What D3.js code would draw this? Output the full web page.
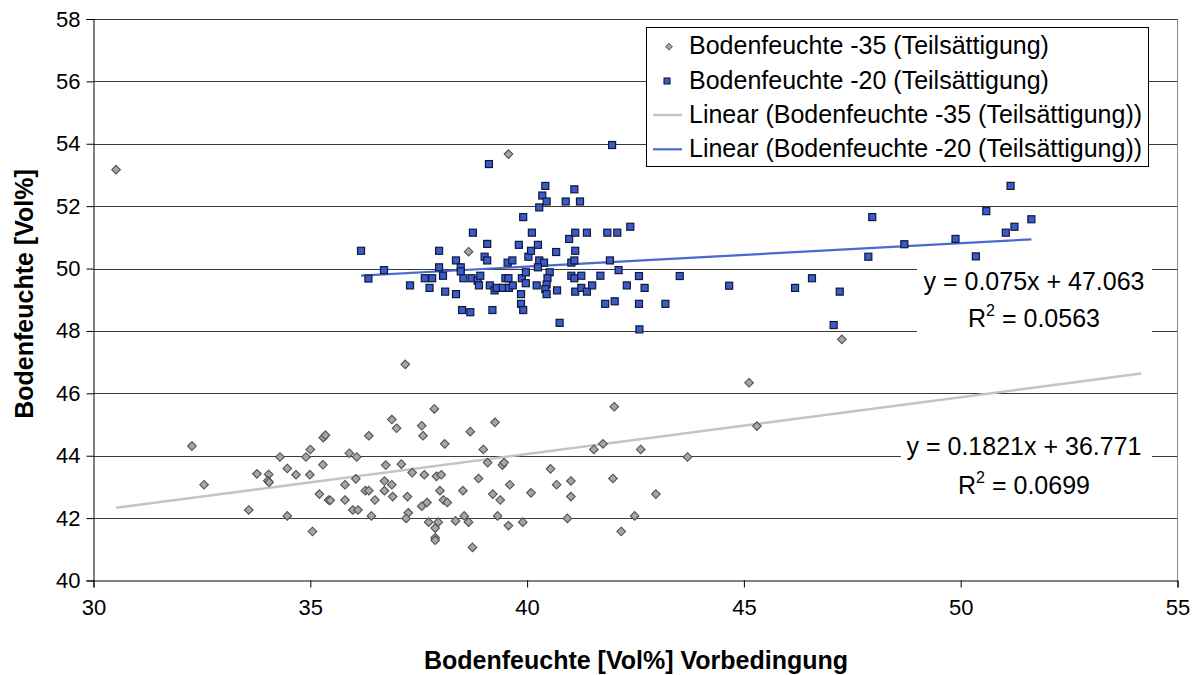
<!DOCTYPE html>
<html>
<head>
<meta charset="utf-8">
<script src="https://cdn.jsdelivr.net/npm/d3@7"></script>
<style>
  html, body { margin: 0; padding: 0; background: #fff; }
  svg { display: block; font-family: "Liberation Sans", Arial, sans-serif; }
</style>
</head>
<body>
<svg id="chart" width="1199" height="675"></svg>
<script>
// Bodenfeuchte -35 (Teilsättigung): x = Vorbedingung, y = Bodenfeuchte
const x35 = [30.52,32.27,32.55,33.58,33.77,34.04,34.02,34.05,34.30,34.47,34.47,34.67,34.90,35.00,34.99,35.05,35.21,35.29,35.30,35.35,
  35.42,35.46,35.80,35.80,35.90,36.07,36.05,35.98,36.10,36.35,36.27,36.35,36.49,36.41,37.19,36.74,36.88,36.99,37.10,36.71,
  36.71,36.88,36.90,37.24,37.26,37.21,37.35,37.57,37.60,37.63,37.86,37.91,38.02,37.99,37.57,37.69,37.73,37.95,37.88,37.88,
  37.88,38.10,38.07,38.16,38.35,38.52,38.55,38.65,38.69,38.74,38.88,38.99,39.09,39.21,39.26,39.32,39.38,39.43,39.47,39.57,
  39.60,39.90,40.09,40.54,40.68,40.93,41.01,41.01,41.54,41.75,42.01,41.98,42.17,42.48,42.62,42.97,39.57,38.65,47.26,45.12,
  45.30,43.70];
const y35 = [53.17,44.31,43.07,42.26,43.42,43.40,43.20,43.15,43.96,43.59,42.07,43.39,43.96,44.20,43.39,41.57,42.77,43.71,44.58,44.66,
  42.58,42.57,43.07,42.58,44.08,43.96,43.26,42.26,42.26,44.64,42.88,42.88,42.58,42.07,46.93,43.70,45.16,44.88,43.73,43.19,
  42.88,43.07,42.69,42.69,42.17,41.99,43.46,44.96,44.64,43.39,45.50,43.34,43.39,42.88,42.38,42.50,41.87,41.87,41.68,41.37,
  41.29,44.38,42.58,42.50,41.91,42.88,42.07,41.87,44.77,41.06,43.27,44.20,43.78,42.77,45.07,42.07,42.58,43.70,43.78,41.76,
  43.07,41.87,42.81,43.58,43.07,41.99,43.19,42.69,44.20,44.38,45.57,43.27,41.57,42.07,44.20,42.77,53.67,50.54,47.73,46.34,
  44.95,43.96];

// Bodenfeuchte -20 (Teilsättigung)
const x20 = [36.17,36.34,36.70,37.30,37.75,37.64,37.81,37.97,37.97,38.06,38.11,38.36,38.36,38.47,38.47,38.50,38.69,38.53,38.75,38.72,
  38.86,38.89,38.92,39.02,39.08,39.08,39.12,39.14,39.25,39.20,39.30,39.44,39.58,39.67,39.50,39.57,39.55,39.66,39.81,39.86,
  39.86,39.91,39.91,39.88,39.97,39.97,40.03,40.09,40.11,40.22,40.25,40.28,40.28,40.39,40.25,40.35,40.42,40.45,40.52,40.47,
  40.45,40.42,40.45,40.67,40.69,40.75,40.89,40.97,41.02,41.09,41.11,41.11,41.09,41.02,41.09,41.11,41.22,41.25,41.25,41.38,
  41.38,41.50,41.69,41.80,41.85,41.91,41.96,42.02,42.08,42.11,42.30,42.38,42.58,42.58,42.59,42.71,43.19,43.52,44.66,46.18,
  46.57,47.21,47.07,47.87,47.96,48.70,49.88,50.59,50.35,51.15,51.04,51.24,51.63];
const y20 = [50.57,49.68,49.95,49.46,49.38,49.69,49.69,50.57,50.04,49.77,49.26,50.26,49.18,50.04,49.91,48.67,48.60,49.69,51.15,49.69,
  49.61,49.46,49.77,50.38,50.26,50.79,53.35,49.46,49.30,48.67,49.38,49.38,49.38,49.46,49.69,49.69,50.19,50.26,50.76,49.18,
  48.87,48.67,51.65,49.69,49.88,49.53,50.38,50.57,51.15,49.46,50.76,51.96,50.26,50.19,50.04,52.34,52.65,52.15,49.88,49.69,
  49.49,49.34,49.18,50.53,49.30,48.26,52.15,50.95,50.19,52.54,51.15,50.57,50.26,49.77,49.69,49.26,52.15,49.77,49.38,51.15,
  49.26,49.46,49.77,48.87,51.15,50.26,53.96,48.95,51.15,49.95,49.46,51.34,49.76,48.87,48.05,49.38,48.87,49.76,49.45,49.38,
  49.69,49.26,48.19,50.38,51.65,50.78,50.95,51.84,50.39,52.65,51.15,51.34,51.58];

// Linear trend lines: slope, intercept, drawn x-range, label text
const trend35 = { slope: 0.1821, intercept: 36.771, from: 30.52, to: 54.16, eq: "y = 0.1821x + 36.771", r2: "0.0699" };
const trend20 = { slope: 0.075,  intercept: 47.063, from: 36.17, to: 51.63, eq: "y = 0.075x + 47.063",  r2: "0.0563" };

const xTicks = [30, 35, 40, 45, 50, 55];
const yTicks = [40, 42, 44, 46, 48, 50, 52, 54, 56, 58];

const legendLabels = [
  "Bodenfeuchte -35 (Teilsättigung)",
  "Bodenfeuchte -20 (Teilsättigung)",
  "Linear (Bodenfeuchte -35 (Teilsättigung))",
  "Linear (Bodenfeuchte -20 (Teilsättigung))"
];

const xTitle = "Bodenfeuchte [Vol%] Vorbedingung";
const yTitle = "Bodenfeuchte [Vol%]";

// ---- drawing ----
const svg = d3.select("#chart");
const plotL = 93.5, plotR = 1177.5, plotT = 19, plotB = 580.5;

const x = d3.scaleLinear().domain([30, 55]).range([plotL, plotR]);
const y = d3.scaleLinear().domain([40, 58]).range([plotB, plotT]);

const GRAY_FILL = "#a6a6a6", GRAY_STROKE = "#505050";
const BLUE_FILL = "#3b5bc8", BLUE_STROKE = "#10183a";
const GRAY_LINE = "#c4c4c4", BLUE_LINE = "#4a6ad0";

// plot frame (right edge)
svg.append("line").attr("x1", plotR).attr("x2", plotR).attr("y1", plotT).attr("y2", plotB)
  .attr("stroke", "#8c8c8c").attr("stroke-width", 1);

// horizontal gridlines
svg.append("g").selectAll("line").data(yTicks.filter(d => d > 40)).join("line")
  .attr("x1", plotL).attr("x2", plotR)
  .attr("y1", d => Math.round(y(d)) + 0.5).attr("y2", d => Math.round(y(d)) + 0.5)
  .attr("stroke", "#3a3a3a").attr("stroke-width", 1);

// y axis
const yAxis = d3.axisLeft(y).tickValues(yTicks).tickSize(7).tickPadding(4).tickFormat(d3.format("d"));
const gy = svg.append("g").attr("transform", `translate(${plotL},0)`).call(yAxis);
gy.select(".domain").attr("stroke", "#000");
gy.selectAll(".tick line").attr("stroke", "#000");
gy.selectAll(".tick text").attr("font-size", 22).attr("font-family", "Liberation Sans, Arial, sans-serif")
  .attr("fill", "#000").attr("dx", -2);

// x axis
const xAxis = d3.axisBottom(x).tickValues(xTicks).tickSize(7).tickPadding(12).tickFormat(d3.format("d"));
const gx = svg.append("g").attr("transform", `translate(0,${plotB})`).call(xAxis);
gx.select(".domain").attr("stroke", "#000");
gx.selectAll(".tick line").attr("stroke", "#000");
gx.selectAll(".tick text").attr("font-size", 22).attr("font-family", "Liberation Sans, Arial, sans-serif")
  .attr("fill", "#000");

// axis titles
svg.append("text").attr("x", 636).attr("y", 669)
  .attr("text-anchor", "middle").attr("font-weight", "bold").attr("font-size", 25)
  .text(xTitle);
svg.append("text").attr("transform", "translate(33,294) rotate(-90)")
  .attr("text-anchor", "middle").attr("font-weight", "bold").attr("font-size", 25)
  .text(yTitle);

// trend lines
const lineGen = d3.line().x(d => x(d[0])).y(d => y(d[1]));
function trendPts(t) { return [[t.from, t.slope * t.from + t.intercept], [t.to, t.slope * t.to + t.intercept]]; }
svg.append("path").attr("d", lineGen(trendPts(trend35))).attr("stroke", GRAY_LINE).attr("stroke-width", 2.5).attr("fill", "none");
svg.append("path").attr("d", lineGen(trendPts(trend20))).attr("stroke", BLUE_LINE).attr("stroke-width", 2.2).attr("fill", "none");

// markers
const diamond = s => `M0,${-s}L${s},0L0,${s}L${-s},0Z`;
svg.append("g").selectAll("path").data(d3.zip(x35, y35)).join("path")
  .attr("transform", d => `translate(${x(d[0])},${y(d[1])})`)
  .attr("d", diamond(4.3)).attr("fill", GRAY_FILL).attr("stroke", GRAY_STROKE).attr("stroke-width", 1.1);

svg.append("g").selectAll("rect").data(d3.zip(x20, y20)).join("rect")
  .attr("x", d => x(d[0]) - 3.5).attr("y", d => y(d[1]) - 3.5)
  .attr("width", 7).attr("height", 7)
  .attr("fill", BLUE_FILL).attr("stroke", BLUE_STROKE).attr("stroke-width", 1.2);

// regression labels with white backing
function eqLabel(t, cx, base1, base2, boxX0, boxX1) {
  const g = svg.append("g");
  g.append("rect").attr("x", boxX0).attr("y", base1 - 27).attr("width", boxX1 - boxX0)
    .attr("height", base2 - base1 + 40).attr("fill", "#fff");
  g.append("text").attr("x", cx).attr("y", base1).attr("text-anchor", "middle").attr("font-size", 25).text(t.eq);
  const r = g.append("text").attr("x", cx).attr("y", base2).attr("text-anchor", "middle").attr("font-size", 25);
  r.append("tspan").text("R");
  r.append("tspan").attr("font-size", 16).attr("dy", -11).text("2");
  r.append("tspan").attr("dy", 11).text(" = " + t.r2);
}
eqLabel(trend20, 1034, 289.5, 327, 917, 1152);
eqLabel(trend35, 1024, 455, 493.5, 901, 1152);

// legend
const lg = svg.append("g");
lg.append("rect").attr("x", 646.5).attr("y", 27.5).attr("width", 502).attr("height", 139)
  .attr("fill", "#fff").attr("stroke", "#000").attr("stroke-width", 1);
const baseY = i => 54.3 + i * 34.3;
lg.selectAll("text").data(legendLabels).join("text")
  .attr("x", 689).attr("y", (d, i) => baseY(i)).attr("font-size", 25).text(d => d);
lg.append("path").attr("transform", "translate(669,46.7)").attr("d", diamond(3.4))
  .attr("fill", GRAY_FILL).attr("stroke", GRAY_STROKE).attr("stroke-width", 1);
lg.append("rect").attr("x", 664).attr("y", 78).attr("width", 6).attr("height", 6)
  .attr("fill", BLUE_FILL).attr("stroke", BLUE_STROKE).attr("stroke-width", 1.1);
lg.append("line").attr("x1", 653).attr("x2", 682).attr("y1", 115).attr("y2", 115)
  .attr("stroke", GRAY_LINE).attr("stroke-width", 2.5);
lg.append("line").attr("x1", 653).attr("x2", 682).attr("y1", 149.3).attr("y2", 149.3)
  .attr("stroke", BLUE_LINE).attr("stroke-width", 2.2);
</script>
</body>
</html>
